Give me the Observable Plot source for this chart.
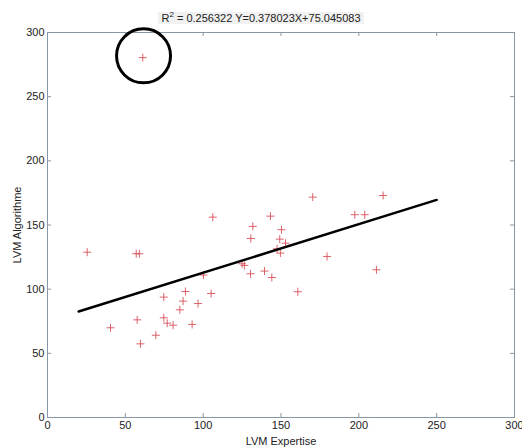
<!DOCTYPE html>
<html>
<head>
<meta charset="utf-8">
<script src="https://cdn.jsdelivr.net/npm/d3@7"></script>
<script src="https://cdn.jsdelivr.net/npm/@observablehq/plot@0.6"></script>
<style>
  html, body { margin: 0; padding: 0; background: #fff; }
  #wrap { position: relative; width: 522px; height: 447px; font-family: "Liberation Sans", Arial, sans-serif; }
  #title { position: absolute; left: 0; width: 522px; top: 10px; text-align: center; font-size: 11px; color: #222; line-height: 16px; }
  #title span { background: #f1f1f1; padding: 0 3px; }
  #title sup { font-size: 8px; line-height: 0; }
</style>
</head>
<body>
<div id="wrap">
  <div id="chart"></div>
  <div id="title"><span>R<sup>2</sup> = 0.256322 Y=0.378023X+75.045083</span></div>
</div>
<script>
// Expertise (x) values
const expertise = [25.5, 57, 59, 40.5, 57.6, 59.7, 69.6, 74.7, 74.7, 76.9, 80.7, 85, 87.1, 88.6, 92.9, 96.7, 100.2, 105.1, 106.2, 125, 126.5, 130.4, 130.6, 131.9, 139.4, 143.2, 144.1, 147.5, 149.2, 149.6, 150.3, 152.9, 160.8, 170.4, 179.6, 197.4, 203.8, 211.3, 215.6, 61.2];
// Algorithme (y) values
const algorithme = [128.8, 127.6, 127.6, 69.9, 76.1, 57.4, 64.1, 93.8, 77.7, 73.5, 71.9, 83.9, 90.7, 98.2, 72.5, 88.8, 111, 96.6, 156.1, 119.8, 118.5, 112, 139.5, 148.9, 114.1, 156.9, 109.1, 131.5, 139, 128.1, 146.3, 135.8, 98, 171.7, 125.5, 158, 158, 115.1, 173, 280.4];
// Regression line endpoints
const fitX = [20, 250];
const fitY = [82.6, 169.55];
// Highlighted outlier
const outlierX = [61.7];
const outlierY = [281.8];
// Tick values
const ticks = [0, 50, 100, 150, 200, 250, 300];

const points = expertise.map((x, i) => ({x, y: algorithme[i]}));
const fit = fitX.map((x, i) => ({x, y: fitY[i]}));
const outlier = outlierX.map((x, i) => ({x, y: outlierY[i]}));

const axisColor = "#8797a5";

const chart = Plot.plot({
  width: 522,
  height: 447,
  marginLeft: 47,
  marginRight: 8,
  marginTop: 32,
  marginBottom: 30,
  style: {fontFamily: "Liberation Sans, Arial, sans-serif", fontSize: "11px", color: "#222", background: "#fff"},
  x: {domain: [0, 300], ticks: ticks},
  y: {domain: [0, 300], ticks: ticks},
  marks: [
    Plot.frame({stroke: axisColor, strokeWidth: 1}),
    // inward ticks: bottom, top, left, right
    Plot.ruleX(ticks, {x: d => d, y1: 0, y2: 3.1, stroke: axisColor}),
    Plot.ruleX(ticks, {x: d => d, y1: 296.9, y2: 300, stroke: axisColor}),
    Plot.ruleY(ticks, {y: d => d, x1: 0, x2: 2.6, stroke: axisColor}),
    Plot.ruleY(ticks, {y: d => d, x1: 297.4, x2: 300, stroke: axisColor}),
    Plot.axisX({ticks: ticks, tickSize: 0, tickPadding: 4, label: "LVM Expertise", labelAnchor: "center", labelOffset: 27, labelArrow: false, tickFormat: d => String(d)}),
    Plot.axisY({ticks: ticks, tickSize: 0, tickPadding: 3, label: "LVM Algorithme", labelAnchor: "center", labelOffset: 34, labelArrow: false, tickFormat: d => String(d)}),
    Plot.dot(points, {x: "x", y: "y", symbol: "plus", r: 2.7, stroke: "#d8505a", strokeWidth: 0.9}),
    Plot.line(fit, {x: "x", y: "y", stroke: "#000", strokeWidth: 2.5}),
    Plot.dot(outlier, {x: "x", y: "y", r: 27, stroke: "#000", strokeWidth: 3, fill: "none"})
  ]
});
document.getElementById("chart").appendChild(chart);
</script>
</body>
</html>
